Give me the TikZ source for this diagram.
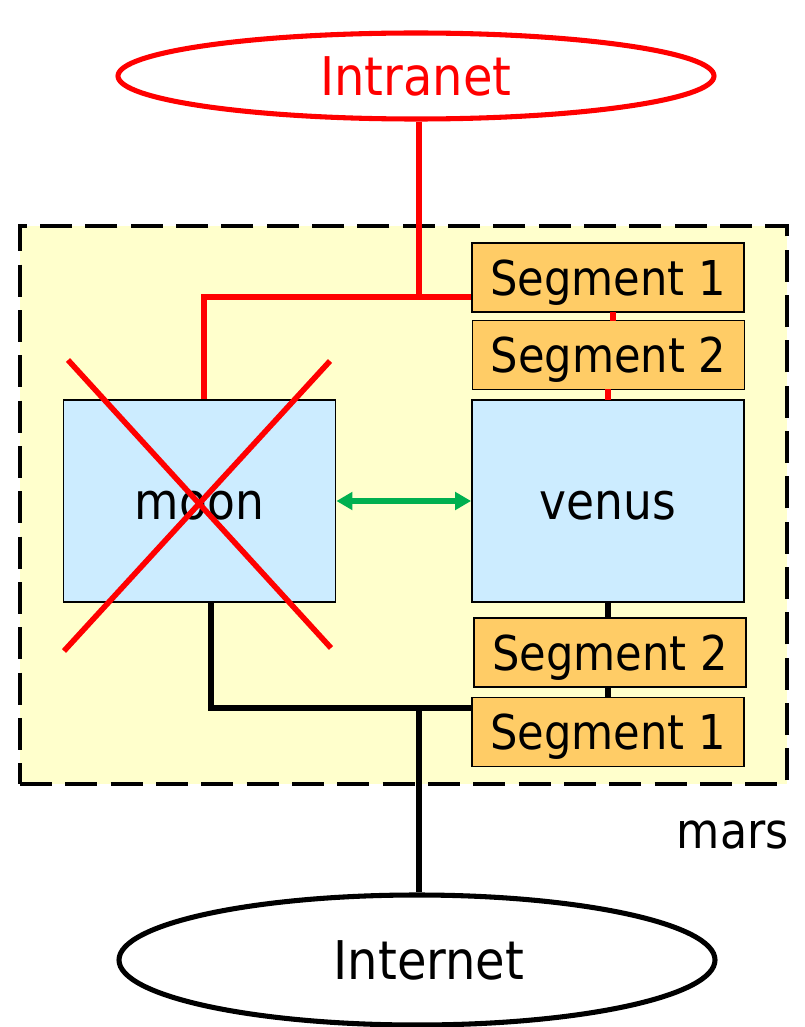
\documentclass[tikz,border=0pt]{standalone}
\usepackage{fontspec}
\setmainfont{DejaVu Sans}[FakeStretch=0.9]
\usetikzlibrary{shapes.geometric,arrows.meta}
\definecolor{marsfill}{HTML}{FFFFCC}
\definecolor{segfill}{HTML}{FFCC66}
\definecolor{hostfill}{HTML}{CCECFF}
\definecolor{myred}{HTML}{FF0000}
\definecolor{mygreen}{HTML}{00B050}
\tikzset{
  segbox/.style={draw=black,line width=1.4pt,fill=segfill,minimum width=272*0.75pt,minimum height=69*0.75pt,inner sep=0pt,font=\fontsize{36}{40}\selectfont,text height=26.3pt,text depth=0pt},
  hostbox/.style={draw=black,line width=1.4pt,fill=hostfill,minimum width=272*0.75pt,minimum height=202*0.75pt,inner sep=0pt,font=\fontsize{38}{42}\selectfont,text height=27.7pt,text depth=0pt},
  netell/.style={ellipse,line width=3.8pt,fill=white,minimum width=596*0.75pt,minimum height=86*0.75pt,inner sep=0pt,font=\fontsize{40}{44}\selectfont,text height=29.2pt,text depth=0pt},
  redline/.style={draw=myred,line width=4.2pt},
  blackline/.style={draw=black,line width=4.2pt},
}
\begin{document}
\begin{tikzpicture}[x=0.75pt,y=-0.75pt]
\useasboundingbox (0,0) rectangle (805,1027);
% mars container
\node[draw=black,line width=3pt,dash pattern=on 24pt off 10pt,fill=marsfill,minimum width=767*0.75pt,minimum height=558*0.75pt,inner sep=0pt] (mars) at (403.5,505) {};
\node[anchor=east,font=\fontsize{37}{40}\selectfont,inner sep=0pt,text height=27pt,text depth=0pt] (marslabel) at (789,830) {mars};
% ellipses
\node[netell,draw=myred,text=myred] (intranet) at (416,76) {Intranet};
\node[netell,draw=black,minimum height=130*0.75pt] (internet) at (417,960) {\hspace{18pt}Internet};
% hosts
\node[hostbox] (moon) at (199.5,501) {moon};
\node[hostbox] (venus) at (608,501) {venus};
% segments
\node[segbox] (s1t) at (608,277.5) {Segment 1};
\node[segbox] (s2t) at (608.5,355) {Segment 2};
\node[segbox] (s2b) at (610,652.5) {Segment 2};
\node[segbox] (s1b) at (608,732) {Segment 1};
% red connectors
\coordinate (rj) at (419,297);
\coordinate (rc) at (204,297);
\draw[redline] (rj |- intranet.south) -- (rj);
\draw[redline] (s1t.west |- rj) -- (rc) -- (rc |- moon.north);
\draw[redline] (613,312) -- (613,321);
\draw[redline] (608,389) -- (608,400);
% black connectors
\coordinate (bj) at (419,708);
\coordinate (bc) at (211,708);
\draw[blackline] (moon.south -| bc) -- (bc) -- (s1b.west |- bc);
\draw[blackline] (bj) -- (bj |- internet.north);
\draw[blackline] (608,602) -- (608,618);
\draw[blackline] (608,687) -- (608,697);
% green double arrow
\draw[draw=mygreen,line width=3.8pt,{Triangle[length=12pt,width=13pt]}-{Triangle[length=12pt,width=13pt]}] (moon.east) -- (venus.west);
% red X
\coordinate (xa) at (68,360);
\coordinate (xb) at (331,648);
\coordinate (xc) at (330,361);
\coordinate (xd) at (64,651);
\draw[redline] (xa) -- (xb);
\draw[redline] (xc) -- (xd);
\end{tikzpicture}
\end{document}
